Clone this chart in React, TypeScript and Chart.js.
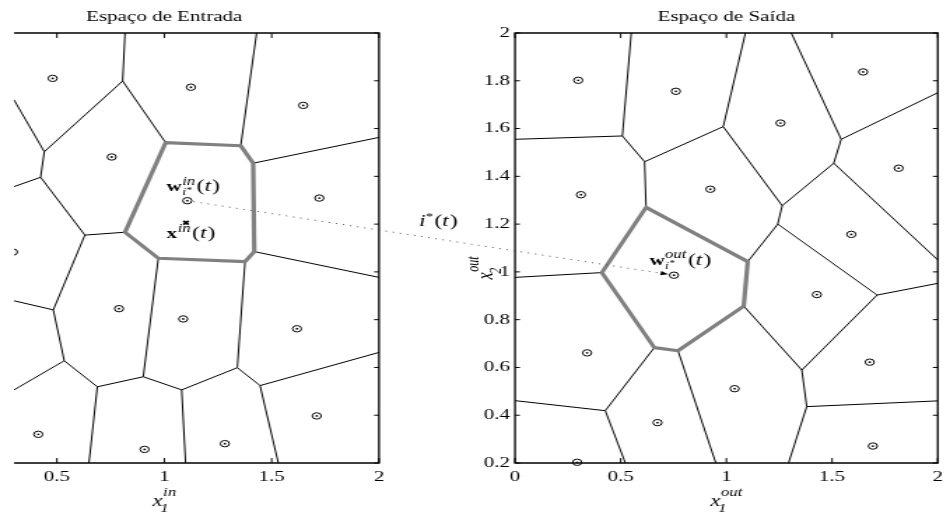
import { useEffect, useRef } from "react";
import { Chart, registerables } from "chart.js";

Chart.register(...registerables);

// ---------------- data ----------------
const inTitle = "Espaço de Entrada";
const outTitle = "Espaço de Saída";

const inXTicks = [0.5, 1, 1.5, 2];
const outXTicks = [0, 0.5, 1, 1.5, 2];
const yTicks = [0.2, 0.4, 0.6, 0.8, 1, 1.2, 1.4, 1.6, 1.8, 2];

// input space: prototypes (sites)
const inSites: number[][] = [
  [0.48, 1.81], [1.124, 1.773], [1.647, 1.697], [0.755, 1.481], [1.107, 1.298],
  [1.722, 1.309], [0.295, 1.083], [0.789, 0.846], [1.088, 0.803], [1.618, 0.762],
  [0.413, 0.32], [0.908, 0.257], [1.282, 0.281], [1.71, 0.397],
];
const inWinner = 4;
const inSample: number[][] = [[1.101, 1.206]];

// input space: Voronoi vertices and edges
const inVerts: number[][] = [
  [0.817, 2.0], [0.806, 1.799], [0.441, 1.503], [0.3, 1.72], [0.424, 1.396],
  [0.3, 1.357], [0.63, 1.154], [1.006, 1.541], [1.356, 1.528], [1.414, 1.455],
  [1.419, 1.085], [1.376, 1.043], [0.972, 1.057], [0.817, 1.166], [1.43, 2.0],
  [2.0, 1.563], [2.0, 0.977], [0.483, 0.841], [1.34, 0.599], [0.902, 0.561],
  [1.081, 0.506], [1.099, 0.2], [0.688, 0.519], [0.649, 0.2], [0.534, 0.628],
  [0.3, 0.879], [0.3, 0.506], [1.446, 0.524], [1.531, 0.2], [2.0, 0.663],
];
const inEdges: number[][] = [
  [0, 1], [1, 2], [1, 7], [3, 2], [2, 4], [4, 5], [4, 6], [6, 13], [6, 17],
  [14, 8], [9, 15], [10, 16], [11, 18], [12, 19], [18, 20], [19, 20], [20, 21],
  [19, 22], [22, 23], [22, 24], [24, 17], [17, 25], [24, 26], [18, 27], [27, 28],
  [27, 29],
];
const inCell = [7, 8, 9, 10, 11, 12, 13, 7];

// output space: prototypes (sites)
const outSites: number[][] = [
  [0.299, 1.802], [0.761, 1.756], [1.256, 1.623], [1.647, 1.837], [0.312, 1.323],
  [0.924, 1.346], [1.815, 1.434], [1.591, 1.157], [0.752, 0.986], [1.428, 0.905],
  [0.341, 0.661], [1.678, 0.622], [1.039, 0.511], [0.674, 0.369], [1.693, 0.271],
  [0.294, 0.203],
];
const outWinner = 8;

// output space: Voronoi vertices and edges
const outVerts: number[][] = [
  [0.55, 2], [0.508, 1.569], [0, 1.555], [0.613, 1.461], [0.985, 1.608],
  [1.09, 2], [0.62, 1.27], [1.264, 1.277], [1.307, 2], [1.543, 1.555],
  [2, 1.75], [1.508, 1.455], [1.243, 1.2], [2, 1.05], [1.713, 0.903],
  [2, 0.952], [1.357, 0.589], [1.101, 1.043], [1.082, 0.857], [0.771, 0.67],
  [0.659, 0.683], [0.411, 0.997], [0, 0.977], [1.38, 0.436], [2, 0.46],
  [1.294, 0.2], [0.95, 0.2], [0.427, 0.419], [0, 0.461], [0.522, 0.2],
];
const outEdges: number[][] = [
  [0, 1], [2, 1], [1, 3], [3, 4], [4, 5], [3, 6], [4, 7], [8, 9], [9, 10],
  [9, 11], [11, 7], [7, 12], [11, 13], [12, 14], [14, 15], [14, 16], [12, 17],
  [21, 22], [18, 16], [16, 23], [23, 24], [23, 25], [19, 26], [20, 27], [27, 28],
  [27, 29],
];
const outCell = [6, 17, 18, 19, 20, 21, 6];

// annotation anchors (data coordinates of their own panel)
const wInLabelAt = [1.011, 1.337];
const xInLabelAt = [1.011, 1.14];
const iStarLabelAt = [2.187, 1.192];
const wOutLabelAt = [0.636, 1.029];

// ---------------- layout ----------------
const W = 950;
const H = 514;
const BW = 679; // bitmap width; the figure is stretched horizontally to 950px
const K = W / BW;
const TOP = 33;
const XAXIS_H = 51;
const YAXIS_W = 30;
const inLeft = 14 / K;
const inRight = 379 / K;
const outLeft = 515 / K;
const outRight = 945 / K;

const FONT = '"Liberation Serif", "Times New Roman", serif';
const f = (style: string, size: number) => `${style} ${size}px ${FONT}`;
const pt = (p: number[]) => ({ x: p[0], y: p[1] });

function datasetsFor(
  sites: number[][],
  verts: number[][],
  edges: number[][],
  cell: number[],
  siteClip: any,
  sample: number[][] | null
) {
  const ds: any[] = [
    {
      data: sites.map(pt), showLine: false, pointRadius: 3.2, pointBorderWidth: 1,
      pointBorderColor: "#000", pointBackgroundColor: "rgba(0,0,0,0)", order: 0, clip: siteClip,
    },
    {
      data: sites.map(pt), showLine: false, pointRadius: 0.9, pointBorderWidth: 0,
      pointBackgroundColor: "#000", order: 0, clip: siteClip,
    },
    {
      data: cell.map((i) => pt(verts[i])), showLine: true, borderColor: "#808080",
      borderWidth: 3.2, pointRadius: 0, borderJoinStyle: "round", borderCapStyle: "round", order: 1,
    },
  ];
  if (sample) {
    ds.push({
      data: sample.map(pt), showLine: false, pointStyle: "crossRot", pointRadius: 2.6,
      pointBorderWidth: 1.8, pointBorderColor: "#000", order: 0,
    });
  }
  edges.forEach(([a, b]) =>
    ds.push({
      data: [pt(verts[a]), pt(verts[b])], showLine: true, borderColor: "#000",
      borderWidth: 1, pointRadius: 0, order: 2,
    })
  );
  return ds;
}

function scalesFor(xMin: number, xMax: number, xTicks: number[], showY: boolean) {
  const tickFont = { family: FONT, size: 15 };
  return {
    x: {
      type: "linear", position: "bottom", min: xMin, max: xMax,
      afterBuildTicks: (s: any) => { s.ticks = xTicks.map((v) => ({ value: v })); },
      afterFit: (s: any) => { s.height = XAXIS_H; },
      grid: { display: false, drawTicks: false }, border: { display: false },
      ticks: {
        font: tickFont, color: "#000", padding: 5, maxRotation: 0, autoSkip: false,
        callback: (v: any) => String(v),
      },
    },
    y: {
      type: "linear", position: "left", min: 0.2, max: 2, display: showY,
      afterBuildTicks: (s: any) => { s.ticks = yTicks.map((v) => ({ value: v })); },
      afterFit: (s: any) => { s.width = showY ? YAXIS_W : 0; },
      grid: { display: false, drawTicks: false }, border: { display: false },
      ticks: {
        font: tickFont, color: "#000", padding: 3.5, autoSkip: false,
        callback: (v: any) => String(v),
      },
    },
  };
}

function drawFrame(ctx: CanvasRenderingContext2D, a: any, xs: any, ys: any, withLeft: boolean) {
  ctx.strokeStyle = "#000";
  ctx.lineWidth = 1.3;
  ctx.beginPath();
  ctx.moveTo(a.left, a.top);
  ctx.lineTo(a.right, a.top);
  ctx.lineTo(a.right, a.bottom);
  ctx.lineTo(a.left, a.bottom);
  if (withLeft) ctx.closePath();
  ctx.stroke();
  ctx.lineWidth = 1;
  ctx.beginPath();
  xs.ticks.forEach((t: any) => {
    const p = xs.getPixelForValue(t.value);
    ctx.moveTo(p, a.top);
    ctx.lineTo(p, a.top + 5);
    ctx.moveTo(p, a.bottom);
    ctx.lineTo(p, a.bottom - 5);
  });
  ys.ticks.forEach((t: any) => {
    const p = ys.getPixelForValue(t.value);
    ctx.moveTo(a.right, p);
    ctx.lineTo(a.right - 3.5, p);
    if (withLeft) {
      ctx.moveTo(a.left, p);
      ctx.lineTo(a.left + 3.5, p);
    }
  });
  ctx.stroke();
}

function parenT(ctx: CanvasRenderingContext2D, x: number, y: number) {
  ctx.font = f("normal", 17);
  ctx.fillText("(", x, y);
  x += ctx.measureText("(").width;
  ctx.font = f("italic", 17);
  ctx.fillText("t", x, y);
  x += ctx.measureText("t").width + 0.6;
  ctx.font = f("normal", 17);
  ctx.fillText(")", x, y);
}

function wLabel(ctx: CanvasRenderingContext2D, x: number, y: number, sup: string) {
  ctx.font = f("bold", 15);
  ctx.fillText("w", x, y);
  let cx = x + ctx.measureText("w").width + 0.3;
  ctx.font = f("italic", 12);
  ctx.fillText(sup, cx, y - 6.5);
  const supW = ctx.measureText(sup).width;
  ctx.font = f("italic", 10);
  ctx.fillText("i", cx, y + 4);
  const iW = ctx.measureText("i").width;
  ctx.font = f("normal", 8);
  ctx.fillText("*", cx + iW + 0.3, y + 1.5);
  const stW = ctx.measureText("*").width;
  cx += Math.max(supW, iW + 0.3 + stW) + 1;
  parenT(ctx, cx, y);
}

function xLabel(ctx: CanvasRenderingContext2D, x: number, y: number) {
  ctx.font = f("bold", 15);
  ctx.fillText("x", x, y);
  let cx = x + ctx.measureText("x").width + 0.3;
  ctx.font = f("italic", 12);
  ctx.fillText("in", cx, y - 6.5);
  cx += ctx.measureText("in").width + 1;
  parenT(ctx, cx, y);
}

function iStarLabel(ctx: CanvasRenderingContext2D, x: number, y: number) {
  ctx.font = f("italic", 17);
  ctx.fillText("i", x, y);
  let cx = x + ctx.measureText("i").width + 0.3;
  ctx.font = f("normal", 10);
  ctx.fillText("*", cx, y - 6);
  cx += ctx.measureText("*").width + 0.8;
  parenT(ctx, cx, y);
}

function axisTitle(ctx: CanvasRenderingContext2D, cx: number, y: number, sub: string, sup: string) {
  const xF = f("italic", 16);
  const sF = f("italic", 12);
  ctx.font = xF;
  const xw = ctx.measureText("x").width;
  ctx.font = sF;
  const supW = ctx.measureText(sup).width;
  const subW = ctx.measureText(sub).width;
  const total = xw + Math.max(supW + 0.5, subW - 1.5);
  const x0 = cx - total / 2;
  ctx.font = xF;
  ctx.fillText("x", x0, y);
  ctx.font = sF;
  ctx.fillText(sup, x0 + xw + 0.5, y - 10);
  ctx.fillText(sub, x0 + xw - 1.5, y + 6);
}

function baseOptions(padLeft: number, padRight: number, scales: any) {
  return {
    responsive: false,
    animation: false,
    events: [],
    layout: { padding: { left: padLeft, right: padRight, top: TOP, bottom: 0 }, autoPadding: false },
    plugins: { legend: { display: false }, tooltip: { enabled: false }, title: { display: false } },
    scales,
  } as any;
}

export default function App() {
  const leftRef = useRef<HTMLCanvasElement>(null);
  const rightRef = useRef<HTMLCanvasElement>(null);

  useEffect(() => {
    const leftPlugin = {
      id: "leftDecor",
      afterDraw(chart: any) {
        const { ctx, chartArea: a } = chart;
        const xs = chart.scales.x;
        const ys = chart.scales.y;
        ctx.save();
        drawFrame(ctx, a, xs, ys, false);
        ctx.fillStyle = "#000";
        ctx.textBaseline = "alphabetic";
        ctx.font = f("normal", 15);
        ctx.textAlign = "center";
        ctx.fillText(inTitle, xs.getPixelForValue(1), a.top - 12);
        ctx.textAlign = "left";
        axisTitle(ctx, xs.getPixelForValue(1), a.bottom + 43, "1", "in");
        wLabel(ctx, xs.getPixelForValue(wInLabelAt[0]), ys.getPixelForValue(wInLabelAt[1]), "in");
        xLabel(ctx, xs.getPixelForValue(xInLabelAt[0]), ys.getPixelForValue(xInLabelAt[1]));
        iStarLabel(ctx, xs.getPixelForValue(iStarLabelAt[0]), ys.getPixelForValue(iStarLabelAt[1]));
        ctx.restore();
      },
    };

    const left = new Chart(leftRef.current as HTMLCanvasElement, {
      type: "scatter",
      data: {
        datasets: datasetsFor(inSites, inVerts, inEdges, inCell,
          { left: 0, top: false, right: false, bottom: false }, inSample),
      },
      options: baseOptions(inLeft, BW - inRight, scalesFor(0.3, 2, inXTicks, false)),
      plugins: [leftPlugin],
    } as any);

    const rightPlugin = {
      id: "rightDecor",
      afterDraw(chart: any) {
        const { ctx, chartArea: a } = chart;
        const xs = chart.scales.x;
        const ys = chart.scales.y;
        ctx.save();
        drawFrame(ctx, a, xs, ys, true);
        ctx.fillStyle = "#000";
        ctx.textBaseline = "alphabetic";
        ctx.font = f("normal", 15);
        ctx.textAlign = "center";
        ctx.fillText(outTitle, xs.getPixelForValue(1), a.top - 12);
        ctx.textAlign = "left";
        axisTitle(ctx, xs.getPixelForValue(1), a.bottom + 43, "1", "out");
        // y title (rotated)
        ctx.save();
        ctx.translate(a.left - 15.7, 268);
        ctx.rotate(-Math.PI / 2);
        axisTitle(ctx, 0, 0, "2", "out");
        ctx.restore();
        wLabel(ctx, xs.getPixelForValue(wOutLabelAt[0]), ys.getPixelForValue(wOutLabelAt[1]), "out");

        // dotted mapping arrow i*(t)
        const lx = left.scales.x as any;
        const ly = left.scales.y as any;
        const p0 = { x: lx.getPixelForValue(inSites[inWinner][0]), y: ly.getPixelForValue(inSites[inWinner][1]) };
        const p1 = { x: xs.getPixelForValue(outSites[outWinner][0]), y: ys.getPixelForValue(outSites[outWinner][1]) };
        const dx = p1.x - p0.x;
        const dy = p1.y - p0.y;
        const L = Math.hypot(dx, dy);
        const ux = dx / L;
        const uy = dy / L;
        const s = { x: p0.x + ux * 4.5, y: p0.y + uy * 4.5 };
        const tip = { x: p1.x - ux * 4.2, y: p1.y - uy * 4.2 };
        const base = { x: tip.x - ux * 5.5, y: tip.y - uy * 5.5 };
        ctx.setLineDash([1, 4.2]);
        ctx.strokeStyle = "#555";
        ctx.lineWidth = 1;
        ctx.beginPath();
        ctx.moveTo(s.x, s.y);
        ctx.lineTo(base.x, base.y);
        ctx.stroke();
        ctx.setLineDash([]);
        ctx.fillStyle = "#000";
        ctx.beginPath();
        ctx.moveTo(tip.x, tip.y);
        ctx.lineTo(base.x - uy * 2.2, base.y + ux * 2.2);
        ctx.lineTo(base.x + uy * 2.2, base.y - ux * 2.2);
        ctx.closePath();
        ctx.fill();
        ctx.restore();
      },
    };

    const right = new Chart(rightRef.current as HTMLCanvasElement, {
      type: "scatter",
      data: { datasets: datasetsFor(outSites, outVerts, outEdges, outCell, false, null) },
      options: baseOptions(outLeft - YAXIS_W, BW - outRight, scalesFor(0, 2, outXTicks, true)),
      plugins: [rightPlugin],
    } as any);

    return () => {
      right.destroy();
      left.destroy();
    };
  }, []);

  const cs: any = { position: "absolute", left: 0, top: 0, width: `${W}px`, height: `${H}px` };
  return (
    <div style={{ position: "absolute", left: 0, top: 0, width: W, height: H, background: "#fff" }}>
      <canvas ref={leftRef} width={BW} height={H} style={cs} />
      <canvas ref={rightRef} width={BW} height={H} style={cs} />
    </div>
  );
}
